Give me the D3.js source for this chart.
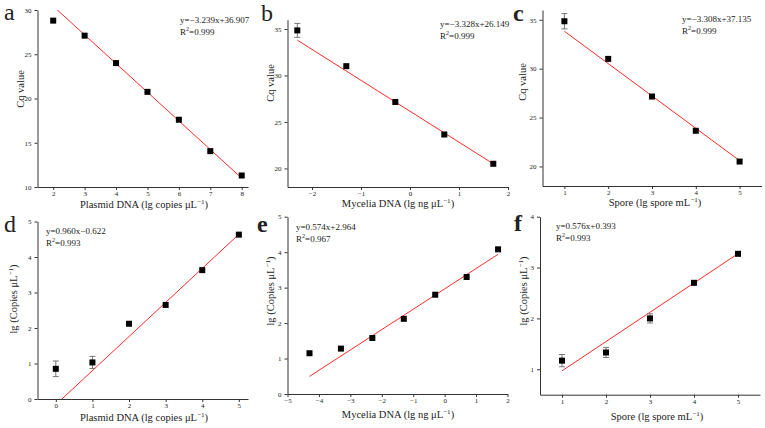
<!DOCTYPE html>
<html>
<head>
<meta charset="utf-8">
<script src="https://cdn.jsdelivr.net/npm/d3@7"></script>
<style>
    body { margin: 0; background: #fff; }
    svg text { font-family: "Liberation Serif", "Times New Roman", serif; fill: #222; }
</style>
</head>
<body>
<div id="chart"></div>
<script>
/*
    Six standard curves (Cq / lg copies), 2 x 3 grid
 */

// a - plasmid DNA vs Cq
const aDose = [2, 3, 4, 5, 6, 7, 8];
const aCq = [28.8, 27.1, 24.0, 20.75, 17.6, 14.05, 11.3];
const aErr = [0, 0, 0, 0, 0, 0, 0];
const aFit = [-3.239, 36.907];
const aXTicks = [2, 3, 4, 5, 6, 7, 8];
const aYTicks = [10, 15, 20, 25, 30];

// b - mycelia DNA vs Cq
const bDose = [-2.3, -1.3, -0.3, 0.7, 1.7];
const bCq = [34.85, 31.0, 27.15, 23.65, 20.5];
const bErr = [0.75, 0, 0, 0, 0];
const bFit = [-3.328, 26.149];
const bXTicks = [-2, -1, 0, 1, 2];
const bYTicks = [20, 25, 30, 35];

// c - spore vs Cq
const cDose = [1, 2, 3, 4, 5];
const cCq = [34.85, 31.0, 27.15, 23.65, 20.5];
const cErr = [0.78, 0, 0, 0, 0];
const cFit = [-3.308, 37.135];
const cXTicks = [1, 2, 3, 4, 5];
const cYTicks = [20, 25, 30, 35];

// d - plasmid DNA vs lg copies
const dDose = [0, 1, 2, 3, 4, 5];
const dCopies = [0.85, 1.03, 2.12, 2.65, 3.63, 4.63];
const dErr = [0.22, 0.17, 0, 0, 0, 0];
const dFit = [0.96, -0.16]; // line as drawn in the figure
const dXTicks = [0, 1, 2, 3, 4, 5];
const dYTicks = [0, 1, 2, 3, 4, 5];

// e - mycelia DNA vs lg copies
const eDose = [-4.3, -3.3, -2.3, -1.3, -0.3, 0.7, 1.7];
const eCopies = [1.15, 1.28, 1.58, 2.12, 2.8, 3.3, 4.08];
const eErr = [0, 0, 0, 0, 0, 0, 0];
const eFit = [0.574, 2.964];
const eXTicks = [-5, -4, -3, -2, -1, 0, 1, 2];
const eYTicks = [0, 1, 2, 3, 4, 5];

// f - spore vs lg copies
const fDose = [1, 2, 3, 4, 5];
const fCopies = [1.17, 1.33, 2.0, 2.7, 3.27];
const fErr = [0.12, 0.1, 0.09, 0, 0];
const fFit = [0.576, 0.393];
const fXTicks = [1, 2, 3, 4, 5];
const fYTicks = [1, 2, 3, 4];

class CurvePanel {
    constructor(svg, opt) {
        var self = this;
        self.svg = svg;
        self.opt = opt;
        self.init();
    }

    // text with superscript pieces: [[str, isSup], ...]
    richText(g, parts, fs) {
        parts.forEach(function(p) {
            if (p[1]) {
                g.append("tspan").attr("font-size", fs * 0.68).attr("dy", -fs * 0.34).text(p[0]);
            } else {
                var t = g.append("tspan").text(p[0]);
                if (g.selectAll("tspan").size() > 1) {
                    t.attr("dy", fs * 0.34);
                }
            }
        });
    }

    init() {
        var self = this;
        var o = self.opt;
        var b = o.box;
        var g = self.svg.append("g").attr("class", "panel-" + o.letter);

        self.xScale = d3.scaleLinear().domain(o.xDomain).range([b.left, b.right]);
        self.yScale = d3.scaleLinear().domain(o.yDomain).range([b.bottom, b.top]);

        var xAxis = d3.axisBottom(self.xScale).tickValues(o.xTicks).tickSize(3).tickSizeOuter(0)
            .tickFormat(d3.format("d"));
        var yAxis = d3.axisLeft(self.yScale).tickValues(o.yTicks).tickSize(3).tickSizeOuter(0)
            .tickFormat(d3.format("d"));

        var gx = g.append("g").attr("transform", "translate(0," + b.bottom + ")").call(xAxis);
        var gy = g.append("g").attr("transform", "translate(" + b.left + ",0)").call(yAxis);
        [gx, gy].forEach(function(ax) {
            ax.select(".domain").attr("stroke", "#333").attr("stroke-width", 1);
            ax.selectAll(".tick line").attr("stroke", "#333");
            ax.selectAll(".tick text").attr("font-size", 7)
                .attr("font-family", "Liberation Serif, serif").attr("fill", "#333");
        });
        gx.selectAll(".tick text").attr("y", 4.5);
        gy.selectAll(".tick text").attr("x", -6);

        // fit line, clipped to the plot box
        var clipId = "clip-" + o.letter;
        g.append("clipPath").attr("id", clipId)
            .append("rect")
            .attr("x", b.left).attr("y", b.top)
            .attr("width", b.right - b.left).attr("height", b.bottom - b.top);

        var fx = d3.extent(o.x);
        if (o.fitFrom !== undefined) fx[0] = o.fitFrom;
        var lineData = fx.map(function(x) { return [x, o.fit[0] * x + o.fit[1]]; });
        g.append("path")
            .datum(lineData)
            .attr("clip-path", "url(#" + clipId + ")")
            .attr("fill", "none")
            .attr("stroke", "#ff2a2a")
            .attr("stroke-width", 1)
            .attr("d", d3.line()
                .x(function(d) { return self.xScale(d[0]); })
                .y(function(d) { return self.yScale(d[1]); }));

        var pts = o.x.map(function(x, i) { return {x: x, y: o.y[i], e: o.err[i]}; });

        // error bars
        var eb = g.selectAll(".err").data(pts.filter(function(d) { return d.e > 0; }))
            .enter().append("g").attr("class", "err")
            .attr("stroke", "#777").attr("stroke-width", 1);
        eb.append("line")
            .attr("x1", function(d) { return self.xScale(d.x); })
            .attr("x2", function(d) { return self.xScale(d.x); })
            .attr("y1", function(d) { return self.yScale(d.y - d.e); })
            .attr("y2", function(d) { return self.yScale(d.y + d.e); });
        [1, -1].forEach(function(s) {
            eb.append("line")
                .attr("x1", function(d) { return self.xScale(d.x) - 3; })
                .attr("x2", function(d) { return self.xScale(d.x) + 3; })
                .attr("y1", function(d) { return self.yScale(d.y + s * d.e); })
                .attr("y2", function(d) { return self.yScale(d.y + s * d.e); });
        });

        // square markers
        g.selectAll(".pt").data(pts).enter().append("rect")
            .attr("class", "pt")
            .attr("x", function(d) { return self.xScale(d.x) - 3; })
            .attr("y", function(d) { return self.yScale(d.y) - 3; })
            .attr("width", 6).attr("height", 6)
            .attr("fill", "#000");

        // equation and R2
        var eq = g.append("text").attr("x", o.eqPos[0]).attr("y", o.eqPos[1]).attr("font-size", 9);
        eq.text(o.eq);
        var r2 = g.append("text").attr("x", o.eqPos[0]).attr("y", o.eqPos[1] + 11.5).attr("font-size", 9);
        self.richText(r2, [["R", false], ["2", true], ["=" + o.r2, false]], 9);

        // axis titles
        var xt = g.append("text").attr("x", o.xTitlePos[0]).attr("y", o.xTitlePos[1])
            .attr("text-anchor", "middle").attr("font-size", 10.5);
        self.richText(xt, o.xTitle, 10.5);

        var yt = g.append("text")
            .attr("transform", "translate(" + o.yTitlePos[0] + "," + o.yTitlePos[1] + ") rotate(-90)")
            .attr("text-anchor", "middle").attr("font-size", 10.5);
        self.richText(yt, o.yTitle, 10.5);

        // panel letter
        g.append("text").attr("x", o.letterPos[0]).attr("y", o.letterPos[1])
            .attr("font-size", 24)
            .attr("font-weight", o.bold ? "bold" : "normal")
            .attr("fill", "#111")
            .text(o.letter);
    }
}

var svg = d3.select("#chart").append("svg")
    .attr("width", 765)
    .attr("height", 428);

var cqTitle = [["Cq value", false]];
var copiesTitle = [["lg (Copies μL", false], ["−1", true], [")", false]];

var panels = [
    {letter: "a", bold: false, x: aDose, y: aCq, err: aErr, fit: aFit,
        xDomain: [1.5, 8.2], yDomain: [10, 30], xTicks: aXTicks, yTicks: aYTicks,
        box: {left: 37.5, right: 248, top: 10, bottom: 187},
        eq: "y=−3.239x+36.907", r2: "0.999", eqPos: [180, 23],
        xTitle: [["Plasmid DNA (lg copies μL", false], ["−1", true], [")", false]], xTitlePos: [144, 208],
        yTitle: cqTitle, yTitlePos: [24, 89], letterPos: [4, 20]},
    {letter: "b", bold: false, x: bDose, y: bCq, err: bErr, fit: bFit,
        xDomain: [-2.5, 2], yDomain: [18, 36], xTicks: bXTicks, yTicks: bYTicks,
        box: {left: 287.5, right: 508, top: 19.7, bottom: 187},
        eq: "y=−3.328x+26.149", r2: "0.999", eqPos: [440, 27],
        xTitle: [["Mycelia DNA (lg ng μL", false], ["−1", true], [")", false]], xTitlePos: [398, 207],
        yTitle: cqTitle, yTitlePos: [274, 83], letterPos: [261, 21]},
    {letter: "c", bold: true, x: cDose, y: cCq, err: cErr, fit: cFit,
        xDomain: [0.5, 5.5], yDomain: [18, 36], xTicks: cXTicks, yTicks: cYTicks,
        box: {left: 542.5, right: 761.5, top: 10, bottom: 186},
        eq: "y=−3.308x+37.135", r2: "0.999", eqPos: [682, 22],
        xTitle: [["Spore  (lg spore mL", false], ["−1", true], [")", false]], xTitlePos: [655, 206],
        yTitle: cqTitle, yTitlePos: [526, 82], letterPos: [513, 21]},
    {letter: "d", bold: false, x: dDose, y: dCopies, err: dErr, fit: dFit, fitFrom: 0,
        xDomain: [-0.5, 5.25], yDomain: [0, 5], xTicks: dXTicks, yTicks: dYTicks,
        box: {left: 37.5, right: 248, top: 221.5, bottom: 399},
        eq: "y=0.960x−0.622", r2: "0.993", eqPos: [46, 234],
        xTitle: [["Plasmid DNA (lg copies μL", false], ["−1", true], [")", false]], xTitlePos: [144, 421],
        yTitle: copiesTitle, yTitlePos: [17, 299], letterPos: [4, 232]},
    {letter: "e", bold: true, x: eDose, y: eCopies, err: eErr, fit: eFit,
        xDomain: [-5, 2], yDomain: [0, 5], xTicks: eXTicks, yTicks: eYTicks,
        box: {left: 287.5, right: 507.5, top: 216.7, bottom: 394},
        eq: "y=0.574x+2.964", r2: "0.967", eqPos: [296, 230],
        xTitle: [["Mycelia DNA (lg ng μL", false], ["−1", true], [")", false]], xTitlePos: [398, 418],
        yTitle: copiesTitle, yTitlePos: [274, 291], letterPos: [257, 232]},
    {letter: "f", bold: true, x: fDose, y: fCopies, err: fErr, fit: fFit,
        xDomain: [0.5, 5.5], yDomain: [0.5, 4], xTicks: fXTicks, yTicks: fYTicks,
        box: {left: 540, right: 760, top: 216.7, bottom: 394.7},
        eq: "y=0.576x+0.393", r2: "0.993", eqPos: [556, 229],
        xTitle: [["Spore (lg spore mL", false], ["−1", true], [")", false]], xTitlePos: [657, 420],
        yTitle: copiesTitle, yTitlePos: [527, 291], letterPos: [514, 231]}
];

panels.forEach(function(p) { new CurvePanel(svg, p); });
</script>
</body>
</html>
